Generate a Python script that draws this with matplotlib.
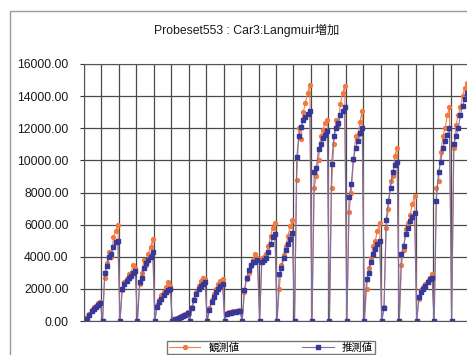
import matplotlib.pyplot as plt
from matplotlib.patches import Rectangle

plt.rcParams['font.family'] = ['Liberation Sans', 'Noto Sans CJK JP']

title = "Probeset553 : Car3:Langmuir増加"
series_names = ["観測値", "推測値"]
y_ticks = [0, 2000, 4000, 6000, 8000, 10000, 12000, 14000, 16000]

# one list per group of samples, first sample of each group is 0
observed = [
    [0, 250, 450, 700, 850, 950, 1100, 1200],
    [0, 2700, 3600, 4300, 4000, 5200, 5600, 6000],
    [0, 1900, 2400, 2600, 2900, 3000, 3500, 3300],
    [0, 2300, 3000, 3800, 3500, 4200, 4600, 5100],
    [0, 1000, 1300, 1600, 1800, 2100, 2400, 2200],
    [0, 150, 200, 250, 300, 350, 450, 550],
    [0, 900, 1400, 1800, 2200, 2500, 2700, 2600],
    [0, 800, 1300, 1700, 2000, 2300, 2500, 2600],
    [0, 500, 550, 560, 600, 620, 650, 700],
    [0, 1800, 2600, 3000, 3400, 3800, 4200, 3900],
    [0, 3900, 4000, 4200, 4700, 5300, 5800, 6100],
    [0, 2000, 3500, 4100, 4700, 5300, 5900, 6300],
    [0, 8800, 12000, 11300, 13000, 13600, 14200, 14700],
    [0, 8300, 9000, 10000, 11500, 11900, 12300, 12500],
    [0, 8300, 11000, 12500, 12200, 13500, 14200, 14600],
    [0, 6800, 8000, 10000, 11500, 11600, 12400, 13100],
    [0, 2000, 3300, 3900, 4700, 5000, 5600, 6100],
    [0, 900, 5800, 7000, 8700, 9000, 10300, 10800],
    [0, 3500, 4400, 5700, 6100, 6600, 7300, 7800],
    [0, 1400, 1900, 2100, 2300, 2500, 2700, 2900],
    [0, 8300, 8700, 10500, 11500, 12000, 12800, 13300],
    [0, 10800, 12200, 12800, 13300, 14000, 14500, 14800],
]

predicted = [
    [0, 150, 400, 600, 750, 900, 1000, 1100],
    [0, 3000, 3400, 4000, 4200, 4600, 4900, 5000],
    [0, 2000, 2300, 2500, 2700, 2800, 3000, 3100],
    [0, 2400, 2700, 3300, 3600, 3800, 4000, 4300],
    [0, 900, 1200, 1400, 1600, 1800, 1900, 2000],
    [0, 100, 150, 200, 250, 300, 400, 500],
    [0, 800, 1300, 1700, 2000, 2200, 2300, 2400],
    [0, 700, 1200, 1500, 1800, 2000, 2200, 2300],
    [0, 450, 500, 520, 550, 580, 600, 650],
    [0, 1900, 2700, 3200, 3500, 3700, 3700, 3800],
    [0, 3700, 3800, 3900, 4300, 4800, 5200, 5400],
    [0, 2900, 3300, 3900, 4400, 4800, 5100, 5500],
    [0, 10200, 11500, 12100, 12500, 12700, 12900, 13100],
    [0, 9300, 9500, 10700, 11000, 11400, 11600, 11800],
    [0, 9800, 11500, 12000, 12300, 12800, 13100, 13300],
    [0, 7700, 8500, 10100, 10800, 11200, 11700, 12000],
    [0, 2600, 3000, 3700, 4200, 4500, 4800, 5000],
    [0, 800, 6300, 7500, 8300, 9300, 9700, 9900],
    [0, 4200, 4700, 5400, 5800, 6200, 6500, 6700],
    [0, 1500, 1800, 2000, 2200, 2400, 2600, 2700],
    [0, 7500, 9300, 9900, 10800, 11200, 11600, 12000],
    [0, 11000, 11500, 12000, 12800, 13400, 13800, 14200],
]

obs = [v for grp in observed for v in grp]
pred = [v for grp in predicted for v in grp]
group_size = len(observed[0])
x = [i + 0.5 for i in range(len(obs))]

fig = plt.figure(figsize=(4.67, 3.55), dpi=100)

# outer chart border (scanned page, cut at right and bottom)
fig.patches.append(Rectangle((10 / 467, -0.1), 1.0, 1 - 11 / 355 + 0.1,
                             transform=fig.transFigure, fill=False,
                             edgecolor="#9a9a9a", linewidth=1.0))

ax = fig.add_axes([84 / 467, 1 - 321 / 355, 384 / 467, 257 / 355])

ax.plot(x, obs, color="#f0805a", linewidth=0.8, marker="o", markersize=2.8,
        markerfacecolor="#f27a3e", markeredgecolor="#f27a3e", label=series_names[0])
ax.plot(x, pred, color="#7a70a8", linewidth=0.8, marker="s", markersize=3.5,
        markerfacecolor="#36389a", markeredgecolor="#36389a", label=series_names[1])

ax.set_xlim(0, len(obs))
ax.set_ylim(0, 16000)
ax.set_yticks(y_ticks)
ax.set_yticklabels([f"{t:.2f}" for t in y_ticks], fontsize=8.8)
ax.set_xticks(range(0, len(obs) + 1, group_size))
ax.set_xticklabels([])
ax.tick_params(axis="x", length=0)
ax.tick_params(axis="y", length=3, pad=8, colors="#333333", labelcolor="#1a1a1a")
ax.grid(True, color="#4a4a4a", linewidth=0.9)
ax.set_axisbelow(True)
for s in ax.spines.values():
    s.set_color("#555555")

fig.text(247 / 467, 1 - 30 / 355, title, ha="center", va="center", fontsize=8.8,
         color="#1a1a1a")

fig.legend(loc="upper center", bbox_to_anchor=(271 / 467, 1 - 341 / 355), ncol=2,
           fontsize=7.5, frameon=True, fancybox=False, edgecolor="#555555",
           handlelength=3, columnspacing=6, borderpad=0.15, borderaxespad=0,
           handletextpad=0.8)

fig.savefig("out.png", dpi=100)
